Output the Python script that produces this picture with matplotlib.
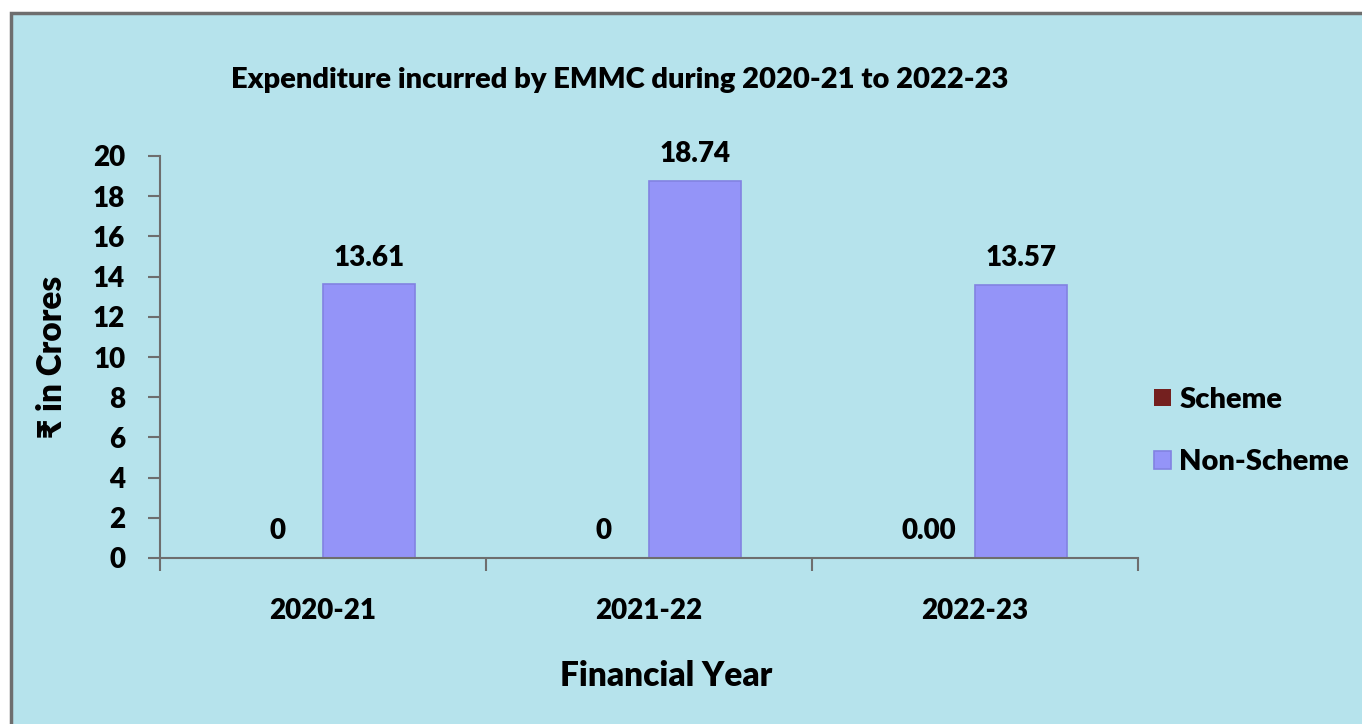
import numpy as np
import matplotlib.pyplot as plt
from matplotlib.patches import Rectangle

plt.rcParams["font.family"] = ["Lato", "DejaVu Sans"]
plt.rcParams["font.weight"] = "heavy"
W = "heavy"

years = ["2020-21", "2021-22", "2022-23"]
scheme = [0, 0, 0]
scheme_labels = ["0", "0", "0.00"]
non_scheme = [13.61, 18.74, 13.57]
non_scheme_labels = ["13.61", "18.74", "13.57"]

bg = "#b6e3ec"
bar_col = "#9494f8"
scheme_col = "#74201f"
grey = "#6e6e6e"

fig = plt.figure(figsize=(13.62, 7.24), dpi=100, facecolor="white")
fig.patches.append(Rectangle((11 / 1362, -0.01), 1.0, 1 - 13 / 724 + 0.01,
                             transform=fig.transFigure, facecolor=bg,
                             edgecolor=grey, linewidth=2.5, zorder=-5))

ax = fig.add_axes([160 / 1362, 1 - 558 / 724, (1138 - 160) / 1362, (558 - 156) / 724])
ax.set_facecolor("none")

x = np.arange(len(years))
w = 0.282
b1 = ax.bar(x - w / 2, scheme, w, color=scheme_col, label="Scheme")
b2 = ax.bar(x + w / 2, non_scheme, w, color=bar_col, edgecolor="#8282e2",
            linewidth=1.2, label="Non-Scheme")
ax.bar_label(b1, labels=scheme_labels, padding=10, fontsize=20, fontweight=W)
ax.bar_label(b2, labels=non_scheme_labels, padding=10, fontsize=20, fontweight=W)

ax.set_xlim(-0.5, 2.5)
ax.set_ylim(0, 20)
ax.set_yticks(range(0, 21, 2))
ax.set_xticks(x)
ax.set_xticklabels(years)
ax.set_xticks([-0.5, 0.5, 1.5, 2.5], minor=True)
ax.tick_params(axis="x", which="major", length=0, pad=29, labelsize=20)
ax.tick_params(axis="x", which="minor", length=9, width=1.5, color=grey, direction="out")
ax.tick_params(axis="y", length=9, width=1.5, color=grey, direction="out", pad=16, labelsize=20)
for lab in ax.get_xticklabels() + ax.get_yticklabels():
    lab.set_fontweight(W)

for s in ["top", "right"]:
    ax.spines[s].set_visible(False)
for s in ["left", "bottom"]:
    ax.spines[s].set_color(grey)
    ax.spines[s].set_linewidth(1.5)

ax.set_xlabel("Financial Year", fontsize=24, fontweight=W)
ax.xaxis.set_label_coords((666 - 160) / (1138 - 160), -(676 - 558) / 402)
ax.xaxis.label.set_va("center")
ax.set_ylabel("₹ in Crores", fontsize=24, fontweight=W, labelpad=18)

fig.text(0.455, 1 - 80 / 724, "Expenditure incurred by EMMC during 2020-21 to 2022-23",
         ha="center", va="center", fontsize=21, fontweight=W)

ax.legend(loc="center left", bbox_to_anchor=(0.99, 0.316), frameon=False,
          handlelength=0.55, handleheight=0.55, handletextpad=0.3,
          labelspacing=1.25, prop={"weight": W, "size": 21})

fig.savefig("out.png", dpi=100, facecolor=fig.get_facecolor())
